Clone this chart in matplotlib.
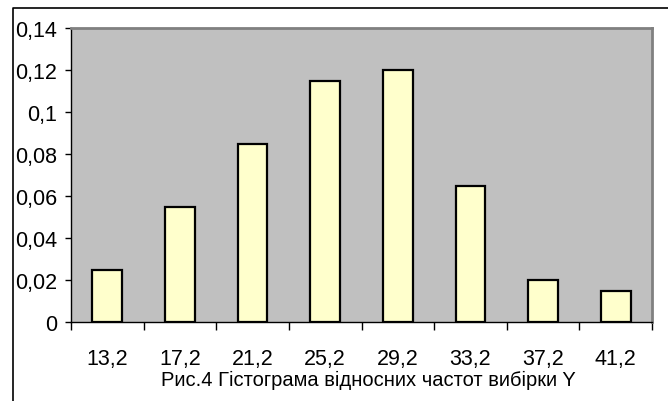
import matplotlib
matplotlib.use('Agg')
import matplotlib.pyplot as plt
from matplotlib.lines import Line2D
import numpy as np

plt.rcParams['font.family'] = ['Liberation Sans', 'DejaVu Sans']

intervals = ['13,2', '17,2', '21,2', '25,2', '29,2', '33,2', '37,2', '41,2']
freqs = [0.025, 0.055, 0.085, 0.115, 0.12, 0.065, 0.02, 0.015]
yticks = [0, 0.02, 0.04, 0.06, 0.08, 0.1, 0.12, 0.14]
ylabels = ['0', '0,02', '0,04', '0,06', '0,08', '0,1', '0,12', '0,14']
caption = 'Рис.4 Гістограма відносних частот вибірки Y'

W, H = 668, 402
fig = plt.figure(figsize=(W / 100, H / 100), dpi=100)
ax = fig.add_axes([71 / W, 1 - 323 / H, (652 - 71) / W, (323 - 29) / H])
ax.set_facecolor('#C0C0C0')

x = np.arange(len(freqs))
ax.bar(x, freqs, width=0.41, color='#FFFFCC', edgecolor='black', linewidth=1.6, zorder=3)

ax.set_xlim(-0.5, len(freqs) - 0.5)
ax.set_ylim(0, 0.14)

ax.set_yticks(yticks)
ax.set_yticklabels(ylabels)
ax.tick_params(axis='y', direction='out', length=4, width=1, pad=6, labelsize=15.5)

# labels sit under the bars, ticks mark the boundaries between classes
ax.set_xticks(x)
ax.set_xticklabels(intervals)
ax.tick_params(axis='x', which='major', length=0, pad=19, labelsize=15.5)
ax.set_xticks(np.arange(len(freqs) + 1) - 0.5, minor=True)
ax.tick_params(axis='x', which='minor', direction='out', length=6, width=1)

for side in ['top', 'right']:
    ax.spines[side].set_color('#808080')
    ax.spines[side].set_linewidth(2)
for side in ['left', 'bottom']:
    ax.spines[side].set_color('black')
    ax.spines[side].set_linewidth(1)

fig.text(368 / W, 1 - 380 / H, caption, ha='center', va='center', fontsize=14.5)

# outer chart frame
fig.add_artist(Line2D([13 / W, 13 / W, 1], [0, 1 - 9 / H, 1 - 9 / H],
                      transform=fig.transFigure, color='black', linewidth=1.2))

fig.savefig('out.png', dpi=100)
